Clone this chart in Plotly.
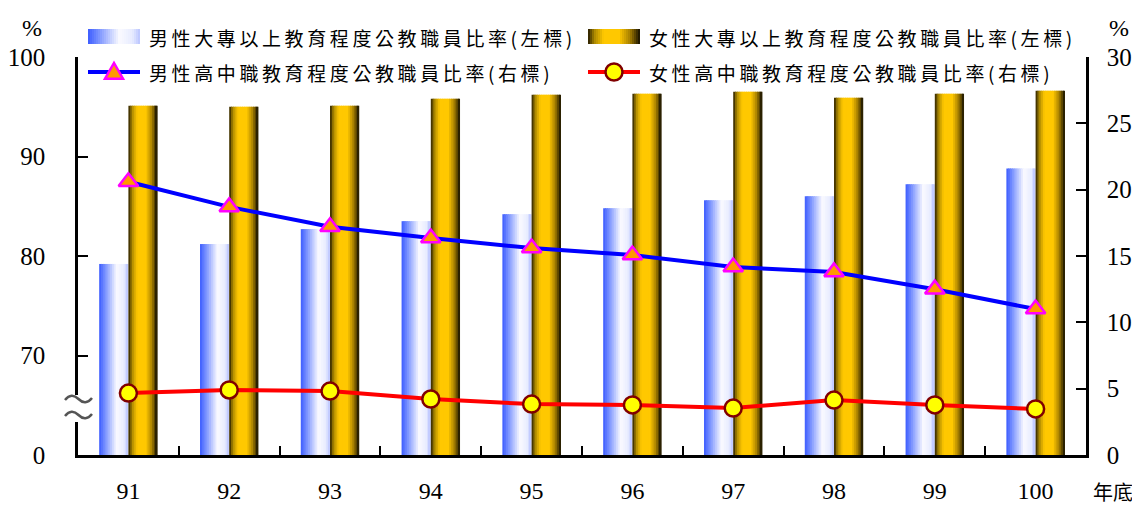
import plotly.graph_objects as go

# ---------------- data ----------------
years = ["91", "92", "93", "94", "95", "96", "97", "98", "99", "100"]
male_college = [79.2, 81.2, 82.7, 83.5, 84.2, 84.8, 85.6, 86.0, 87.2, 88.8]      # left axis (%)
female_college = [95.1, 95.0, 95.1, 95.8, 96.2, 96.3, 96.5, 95.9, 96.3, 96.6]    # left axis (%)
male_hs = [20.6, 18.7, 17.2, 16.35, 15.6, 15.07, 14.17, 13.8, 12.5, 11.0]        # right axis (%)
female_hs = [4.67, 4.9, 4.82, 4.22, 3.84, 3.77, 3.54, 4.14, 3.77, 3.47]          # right axis (%)
left_tick_labels = [0, 70, 80, 90, 100]
right_tick_labels = [0, 5, 10, 15, 20, 25, 30]

name_mc = "男性大專以上教育程度公教職員比率(左標)"
name_fc = "女性大專以上教育程度公教職員比率(左標)"
name_mh = "男性高中職教育程度公教職員比率(右標)"
name_fh = "女性高中職教育程度公教職員比率(右標)"

# ---------------- layout constants ----------------
OFF = 8                      # page body margin of the browser
W, H = 1140 - OFF, 505 - OFF
# plot area in reference-window pixels
RL, RR, RT, RB = 78, 1086, 57, 455
SERIF = "Liberation Serif, 'Noto Sans CJK TC', serif"
CJK = "'Noto Sans CJK TC', 'Liberation Serif', sans-serif"


def broken(v):
    # left axis is broken: 0..70 compressed to one band, 70..100 linear
    return v - 60 if v >= 70 else v * 10.0 / 70.0


def px2x(px):
    return (px - RL) / (RR - RL)


def py2y(py):
    return (RB - py) / (RB - RT)


def lerp_stops(stops, t):
    for (t0, c0), (t1, c1) in zip(stops[:-1], stops[1:]):
        if t0 <= t <= t1:
            f = 0 if t1 == t0 else (t - t0) / (t1 - t0)
            c = [round(a + (b - a) * f) for a, b in zip(c0, c1)]
            return "rgb(%d,%d,%d)" % tuple(c)
    return "rgb(%d,%d,%d)" % tuple(stops[-1][1])


BLUE_STOPS = [(0, (60, 92, 255)), (0.2, (120, 145, 255)), (0.6, (250, 250, 255)),
              (0.85, (232, 236, 255)), (1, (185, 196, 255))]
GOLD_STOPS = [(0, (35, 26, 0)), (0.12, (170, 135, 0)), (0.3, (255, 200, 0)),
              (0.6, (255, 200, 0)), (0.8, (170, 130, 0)), (1, (20, 15, 0))]

BW = 0.29      # bar width in category units
NS = 16        # gradient slices per bar
xs = list(range(len(years)))

fig = go.Figure()


def add_gradient_bars(values, start, stops, name):
    yv = [broken(v) for v in values]
    sw = BW / NS
    for i in range(NS):
        off = start + i * sw
        w = min(sw * 1.6, start + BW - off)
        fig.add_trace(go.Bar(
            x=xs, y=yv, offset=off, width=w,
            marker=dict(color=lerp_stops(stops, (i + 0.5) / NS), line=dict(width=0)),
            customdata=values, name=name, showlegend=False,
            hovertemplate="%{customdata}%<extra>" + name + "</extra>",
            yaxis="y"))


add_gradient_bars(male_college, -BW, BLUE_STOPS, name_mc)
add_gradient_bars(female_college, 0.0, GOLD_STOPS, name_fc)

fig.add_trace(go.Scatter(
    x=xs, y=male_hs, yaxis="y2", mode="lines+markers", name=name_mh, showlegend=False,
    line=dict(color="#0000ff", width=4),
    marker=dict(symbol="triangle-up", size=17, color="#ff9900",
                line=dict(color="#ff00ff", width=2.5))))
fig.add_trace(go.Scatter(
    x=xs, y=female_hs, yaxis="y2", mode="lines+markers", name=name_fh, showlegend=False,
    line=dict(color="#ff0000", width=4),
    marker=dict(symbol="circle", size=17, color="#ffff00",
                line=dict(color="#800000", width=2.5))))

# ---------------- custom legend ----------------
shapes = []
annotations = []


def swatch(x0, x1, y0, y1, stops, n=26):
    sw = (x1 - x0) / n
    for i in range(n):
        a = x0 + i * sw
        b = min(x1, a + sw * 1.6)
        shapes.append(dict(type="rect", xref="paper", yref="paper",
                           x0=px2x(a), x1=px2x(b), y0=py2y(y1), y1=py2y(y0),
                           line=dict(width=0),
                           fillcolor=lerp_stops(stops, (i + 0.5) / n), layer="above"))


def legend_text(px, py, text):
    annotations.append(dict(x=px2x(px), y=py2y(py), xref="paper", yref="paper",
                            text='<span style="letter-spacing:3.6px">' + text + '</span>',
                            showarrow=False, xanchor="left", yanchor="middle",
                            font=dict(family=CJK, size=19, color="black")))


ROW1, ROW2 = 37, 72
swatch(88, 140, 29, 44, BLUE_STOPS)
legend_text(147, ROW1, name_mc)
swatch(588, 640, 29, 44, GOLD_STOPS)
legend_text(647, ROW1, name_fc)

# line legend items
for (lx0, lx1, col) in [(88, 140, "#0000ff"), (588, 640, "#ff0000")]:
    shapes.append(dict(type="line", xref="paper", yref="paper",
                       x0=px2x(lx0), x1=px2x(lx1), y0=py2y(ROW2), y1=py2y(ROW2),
                       line=dict(color=col, width=4), layer="above"))
# triangle marker
tx, ty, ts = 114, ROW2, 9
shapes.append(dict(type="path", xref="paper", yref="paper", layer="above",
                   path="M %f,%f L %f,%f L %f,%f Z" % (
                       px2x(tx - ts), py2y(ty + ts * 0.75),
                       px2x(tx + ts), py2y(ty + ts * 0.75),
                       px2x(tx), py2y(ty - ts * 1.0)),
                   fillcolor="#ff9900", line=dict(color="#ff00ff", width=2.5)))
# circle marker
cx, cy, cr = 614, ROW2, 8.5
shapes.append(dict(type="circle", xref="paper", yref="paper", layer="above",
                   x0=px2x(cx - cr), x1=px2x(cx + cr), y0=py2y(cy + cr), y1=py2y(cy - cr),
                   fillcolor="#ffff00", line=dict(color="#800000", width=2.5)))
legend_text(147, ROW2, name_mh)
legend_text(647, ROW2, name_fh)

# axis break mark on the left axis: white gap + two tildes
shapes.append(dict(type="rect", xref="paper", yref="paper", layer="above",
                   x0=px2x(74), x1=px2x(83), y0=py2y(422), y1=py2y(395),
                   fillcolor="white", line=dict(width=0)))
for ty0 in (399, 415):
    shapes.append(dict(type="path", xref="paper", yref="paper", layer="above",
                       path="M %f,%f Q %f,%f %f,%f T %f,%f" % (
                           px2x(65), py2y(ty0 + 1),
                           px2x(71.5), py2y(ty0 - 7),
                           px2x(78.5), py2y(ty0),
                           px2x(92), py2y(ty0 - 1)),
                       line=dict(color="#555555", width=2.5)))

# axis units
annotations += [
    dict(x=px2x(32), y=py2y(28), xref="paper", yref="paper", text="%", showarrow=False,
         xanchor="center", yanchor="middle",
         font=dict(family=SERIF, size=24, color="black")),
    dict(x=px2x(1119), y=py2y(28), xref="paper", yref="paper", text="%", showarrow=False,
         xanchor="center", yanchor="middle",
         font=dict(family=SERIF, size=24, color="black")),
    dict(x=px2x(1113), y=py2y(492), xref="paper", yref="paper", text="年底", showarrow=False,
         xanchor="center", yanchor="middle", borderpad=0,
         font=dict(family=CJK, size=20, color="black")),
]

axis_common = dict(showgrid=False, zeroline=False, showline=True, linecolor="black",
                   linewidth=2.5, ticks="inside", ticklen=10, tickwidth=2, tickcolor="black",
                   automargin=False,
                   tickfont=dict(family=SERIF, size=25, color="black"))

fig.update_layout(
    template="none",
    width=W, height=H,
    margin=dict(l=RL - OFF, r=W - (RR - OFF), t=RT - OFF, b=H - (RB - OFF), pad=0,
                autoexpand=False),
    paper_bgcolor="white", plot_bgcolor="white",
    barmode="overlay", showlegend=False,
    xaxis=dict(range=[-0.5, len(years) - 0.5], tickmode="array", tickvals=xs, ticktext=years,
               ticks="", showgrid=False, zeroline=False, showline=True, linecolor="black",
               linewidth=2.5, ticklabelstandoff=12, automargin=False,
               tickfont=dict(family=SERIF, size=24, color="black"),
               minor=dict(tickmode="array", tickvals=[i + 0.5 for i in xs[:-1]],
                          ticks="inside", ticklen=9, tickwidth=2, tickcolor="black")),
    yaxis=dict(range=[0, 40], tickmode="array",
               tickvals=[broken(v) for v in left_tick_labels],
               ticktext=[str(v) for v in left_tick_labels],
               ticklabelstandoff=25, **axis_common),
    yaxis2=dict(range=[0, 30], overlaying="y", side="right", tickmode="array",
                tickvals=right_tick_labels, ticktext=[str(v) for v in right_tick_labels],
                ticklabelstandoff=13, **axis_common),
    shapes=shapes, annotations=annotations,
)

fig.write_html("out.html")
